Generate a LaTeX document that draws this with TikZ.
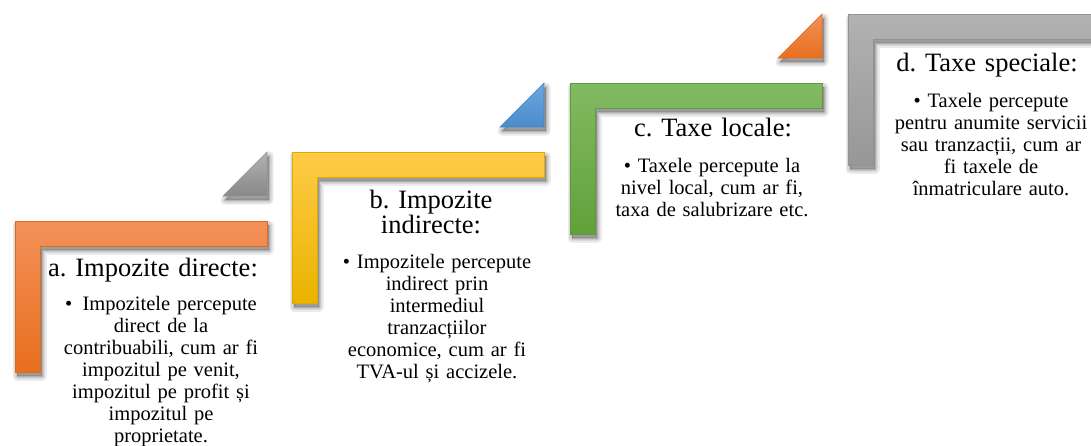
\documentclass[tikz,border=0pt]{standalone}
\usepackage{fontspec}
\setmainfont{Liberation Serif}
\frenchspacing
\tikzset{
  x=1pt, y=-1pt,
  ttl/.style={inner sep=0pt, text width=240pt, align=center, anchor=base, font=\fontsize{26.5}{25}\selectfont},
  bdy/.style={inner sep=0pt, text width=240pt, align=center, anchor=base, font=\fontsize{20.5}{22}\selectfont},
}
\definecolor{orT}{HTML}{F39158}\definecolor{orB}{HTML}{E86F1E}\definecolor{orD}{HTML}{E0691A}
\definecolor{ylT}{HTML}{FFCB48}\definecolor{ylB}{HTML}{E9B300}\definecolor{ylD}{HTML}{E2AA00}
\definecolor{grT}{HTML}{82BA62}\definecolor{grB}{HTML}{62A03A}\definecolor{grD}{HTML}{5E9A38}
\definecolor{gyT}{HTML}{B2B2B2}\definecolor{gyB}{HTML}{979797}\definecolor{gyD}{HTML}{939393}
\definecolor{blT}{HTML}{6BA8DF}\definecolor{blB}{HTML}{4A8BCB}\definecolor{blD}{HTML}{4682C0}
\newcommand\Lpth{(0,0) -- (252,0) -- (252,25) -- (25,25) -- (25,151) -- (0,151) -- cycle}
\newcommand\Tpth{(252,-69) -- (252,-25) -- (208,-25) -- cycle}
\newcommand\softshadow[1]{%
  \begin{scope}[shift={(2,4)}]
    \foreach \w in {9,6,3,1}{\filldraw[black, opacity=0.08, line width=\w pt, line join=round] #1;}
  \end{scope}}
\newcommand\Lshape[5]{%
  \begin{scope}[shift={(#1,#2)}]
    \softshadow{\Lpth}
    \shadedraw[draw=#5, line width=0.8pt, top color=#3, bottom color=#4] \Lpth;
  \end{scope}}
\newcommand\Tshape[5]{%
  \begin{scope}[shift={(#1,#2)}]
    \softshadow{\Tpth}
    \shadedraw[draw=#5, line width=0.6pt, top color=#3, bottom color=#4] \Tpth;
  \end{scope}}
\begin{document}
\begin{tikzpicture}
\useasboundingbox (0,0) rectangle (1091,445);
\begin{scope}
\clip (0,0) rectangle (1091,445);
% L shapes
\Lshape{15}{221}{orT}{orB}{orD}
\Lshape{292}{152}{ylT}{ylB}{ylD}
\Lshape{570}{83}{grT}{grB}{grD}
\Lshape{848}{14}{gyT}{gyB}{gyD}
% triangles
\Tshape{15}{221}{gyT}{gyB!90!black}{gyD}
\Tshape{292}{152}{blT}{blB}{blD}
\Tshape{570}{83}{orT}{orB}{orD}
% texts
\node[ttl] (ta) at (153,276) {a. Impozite directe:};
\node[bdy] (ba) at (161,310) {•\, Impozitele percepute\hspace*{12pt}\\direct de la\\contribuabili, cum ar fi\\impozitul pe venit,\\impozitul pe profit și\\impozitul pe\\proprietate.};
\node[ttl] (tb) at (431,208) {b. Impozite\\indirecte:};
\node[bdy] (bb) at (437,268) {• Impozitele percepute\hspace*{12pt}\\indirect prin\\intermediul\\tranzacțiilor\\economice, cum ar fi\\TVA-ul și accizele.};
\node[ttl] (tc) at (713,136) {c. Taxe locale:};
\node[bdy] (bc) at (712,172) {• Taxele percepute la\\nivel local, cum ar fi,\\taxa de salubrizare etc.};
\node[ttl] (td) at (987,71) {d. Taxe speciale:};
\node[bdy] (bd) at (991,107) {• Taxele percepute\hspace*{11pt}\\pentru anumite servicii\\sau tranzacții, cum ar\\fi taxele de\\înmatriculare auto.};
\end{scope}
\end{tikzpicture}
\end{document}
